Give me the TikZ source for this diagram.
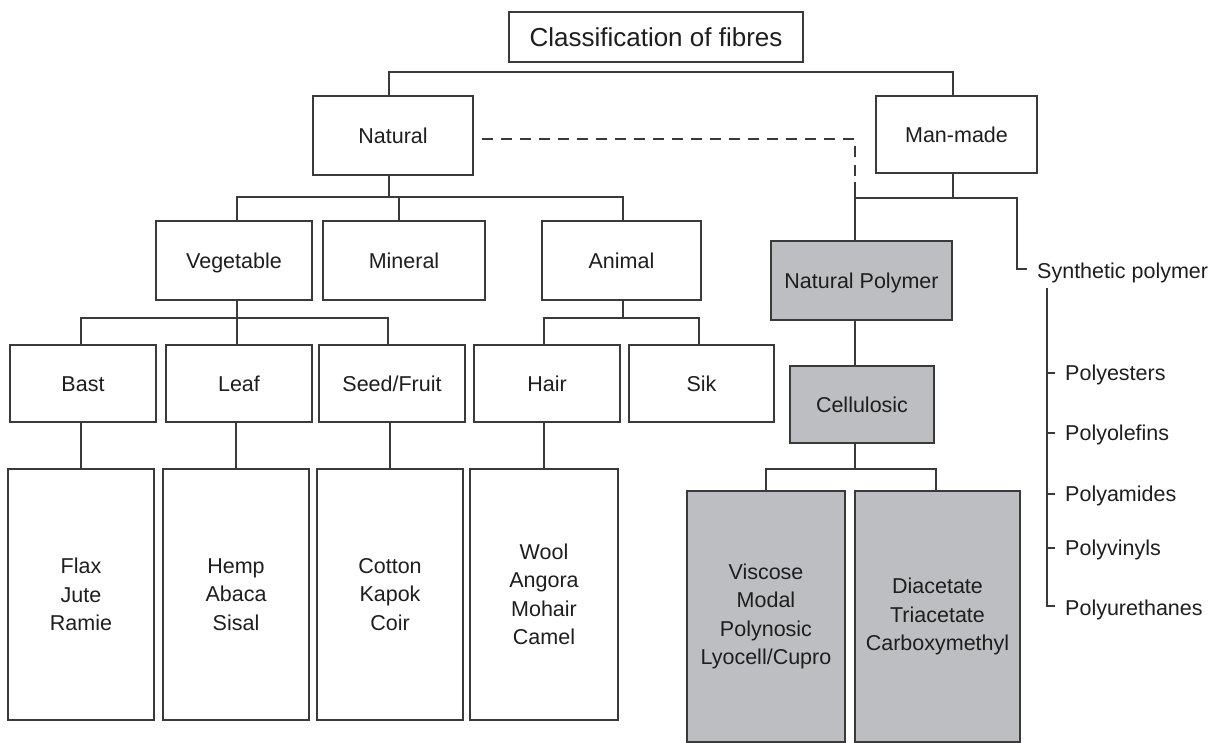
\documentclass[tikz,border=0pt]{standalone}
\usepackage{fontspec}
\setmainfont{Liberation Sans}
\definecolor{ln}{HTML}{3A3A3A}
\definecolor{tx}{HTML}{1E1E1E}
\definecolor{gr}{HTML}{BDBEC2}
\tikzset{
  mbox/.style={draw=ln, line width=1.6pt, fill=white, inner sep=0pt, align=center, text=tx,
    font=\fontsize{21.5}{28.5}\selectfont},
  box/.style={mbox, text height=15.4pt, text depth=0pt},
  gbox/.style={box, fill=gr},
  gmbox/.style={mbox, fill=gr},
  lbl/.style={inner sep=0pt, text=tx, anchor=west, text height=15.4pt, text depth=0pt,
    font=\fontsize{21.5}{28.5}\selectfont},
  conn/.style={draw=ln, line width=1.6pt},
  dconn/.style={conn, dash pattern=on 11pt off 8pt}
}
\begin{document}
\begin{tikzpicture}[x=1pt,y=-1pt]
\useasboundingbox[fill=white] (0,0) rectangle (1219,743);
% title
\node[mbox, minimum width=294, minimum height=50, text height=18.6pt, text depth=0pt, font=\fontsize{26}{30}\selectfont] (title) at (656,37) {Classification of fibres};
% level 1
\node[box, minimum width=160, minimum height=79] (natural) at (393,135.5) {Natural};
\node[box, minimum width=161, minimum height=77] (manmade) at (956.5,134.5) {Man-made};
% level 2
\node[box, minimum width=156, minimum height=79] (veg) at (234,260.5) {Vegetable};
\node[box, minimum width=162, minimum height=79] (mineral) at (404,260.5) {Mineral};
\node[box, minimum width=159, minimum height=79] (animal) at (621.5,260.5) {Animal};
% level 3
\node[box, minimum width=146, minimum height=77] (bast) at (83,383.5) {Bast};
\node[box, minimum width=146, minimum height=77] (leaf) at (239,383.5) {Leaf};
\node[box, minimum width=146, minimum height=77] (seed) at (392,383.5) {Seed/Fruit};
\node[box, minimum width=146, minimum height=77] (hair) at (547,383.5) {Hair};
\node[box, minimum width=145, minimum height=77] (sik) at (701.5,383.5) {Sik};
% level 4
\node[mbox, minimum width=146, minimum height=251] (flax) at (81,594.5) {Flax\\Jute\\Ramie};
\node[mbox, minimum width=146, minimum height=251] (hemp) at (236,594.5) {Hemp\\Abaca\\Sisal};
\node[mbox, minimum width=146, minimum height=251] (cotton) at (390,594.5) {Cotton\\Kapok\\Coir};
\node[mbox, minimum width=148, minimum height=251] (wool) at (544,594.5) {Wool\\Angora\\Mohair\\Camel};
% man-made side
\node[gbox, minimum width=181, minimum height=79] (np) at (861.5,280.5) {Natural Polymer};
\node[gbox, minimum width=144, minimum height=77] (cell) at (862,404.5) {Cellulosic};
\node[gmbox, minimum width=158, minimum height=251] (visc) at (766,616.5) {Viscose\\Modal\\Polynosic\\Lyocell/Cupro};
\node[gmbox, minimum width=165, minimum height=251] (diac) at (937.5,616.5) {Diacetate\\Triacetate\\Carboxymethyl};
\node[lbl] (syn) at (1037,271) {Synthetic polymer};
\node[lbl] (pe) at (1065,373) {Polyesters};
\node[lbl] (po) at (1065,433) {Polyolefins};
\node[lbl] (pa) at (1065,494) {Polyamides};
\node[lbl] (pv) at (1065,548) {Polyvinyls};
\node[lbl] (pu) at (1065,608) {Polyurethanes};
% coordinates
\coordinate (tb) at (389,72);
\coordinate (nb) at (389,197);
\coordinate (vb) at (237,318);
\coordinate (ab) at (623,318);
\coordinate (mb) at (953,198);
\coordinate (de) at (855,182);
\coordinate (ds) at (482,139);
\coordinate (cb) at (855,469);
\coordinate (st) at (1047,288);
% top bus
\draw[conn] ([xshift=-4pt]natural.north) -- (tb) -| ([xshift=-3.5pt]manmade.north);
% natural to level 2
\draw[conn] ([xshift=-4pt]natural.south) -- (nb);
\draw[conn] ([xshift=3pt]veg.north) |- (nb) -| ([xshift=1.5pt]animal.north);
\draw[conn] ([xshift=-5pt]mineral.north) -- ([xshift=-5pt]mineral.north |- nb);
% vegetable to level 3
\draw[conn] ([xshift=3pt]veg.south) -- (vb);
\draw[conn] ([xshift=-2pt]bast.north) |- (vb) -| ([xshift=-4pt]seed.north);
\draw[conn] (vb) -- ([xshift=-2pt]leaf.north);
% animal to level 3
\draw[conn] ([xshift=1.5pt]animal.south) -- (ab);
\draw[conn] ([xshift=-3pt]hair.north) |- (ab) -| ([xshift=-2.5pt]sik.north);
% level 3 to level 4
\draw[conn] (flax.north) -- (flax.north |- bast.south);
\draw[conn] (hemp.north) -- (hemp.north |- leaf.south);
\draw[conn] (cotton.north) -- (cotton.north |- seed.south);
\draw[conn] (wool.north) -- (wool.north |- hair.south);
% dashed link
\draw[dconn] (ds) -| (de);
% man-made branches
\draw[conn] ([xshift=-3.5pt]manmade.south) -- (mb);
\draw[conn] (de) -- ([xshift=-6.5pt]np.north);
\draw[conn] (de |- mb) -- (mb) -| ([xshift=-20pt,yshift=2pt]syn.west) -- ([xshift=-10pt,yshift=2pt]syn.west);
\draw[conn] ([xshift=-6.5pt]np.south) -- ([xshift=-7pt]cell.north);
\draw[conn] ([xshift=-7pt]cell.south) -- (cb);
\draw[conn] (visc.north) |- (cb) -| ([xshift=-1.5pt]diac.north);
% synthetic list
\draw[conn] (st) |- ([xshift=-10pt,yshift=2pt]pu.west);
\foreach \p in {pe,po,pa,pv}{
  \draw[conn] ([xshift=-18pt]\p.west) -- ([xshift=-10pt]\p.west);
}
\end{tikzpicture}
\end{document}
